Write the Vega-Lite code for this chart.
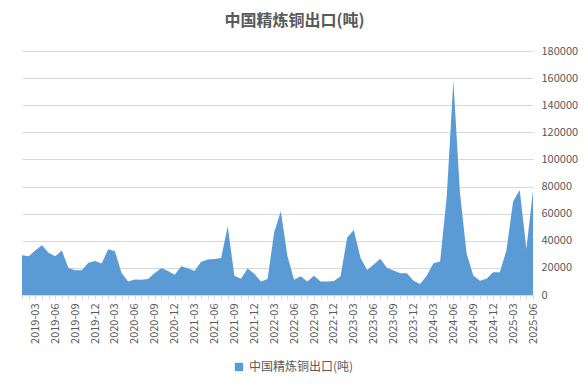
{
  "$schema": "https://vega.github.io/schema/vega-lite/v6.json",
  "autosize": "none",
  "width": 511,
  "height": 244,
  "padding": {"left": 22, "top": 51, "right": 55, "bottom": 91},
  "background": "white",
  "config": {
    "font": "Noto Sans CJK SC",
    "view": {"stroke": null}
  },
  "title": {
    "text": "中国精炼铜出口(吨)",
    "fontSize": 16,
    "fontWeight": "bold",
    "color": "#595959",
    "anchor": "middle",
    "dx": 17,
    "offset": 16,
    "font": "Noto Sans CJK SC"
  },
  "data": {
    "values": [
      {"month": "2019-01", "value": 29250},
      {"month": "2019-02", "value": 28500},
      {"month": "2019-03", "value": 32750},
      {"month": "2019-04", "value": 36750},
      {"month": "2019-05", "value": 31250},
      {"month": "2019-06", "value": 28500},
      {"month": "2019-07", "value": 32750},
      {"month": "2019-08", "value": 20000},
      {"month": "2019-09", "value": 18250},
      {"month": "2019-10", "value": 18250},
      {"month": "2019-11", "value": 23750},
      {"month": "2019-12", "value": 25000},
      {"month": "2020-01", "value": 23250},
      {"month": "2020-02", "value": 33750},
      {"month": "2020-03", "value": 32250},
      {"month": "2020-04", "value": 16250},
      {"month": "2020-05", "value": 10000},
      {"month": "2020-06", "value": 11500},
      {"month": "2020-07", "value": 11250},
      {"month": "2020-08", "value": 11750},
      {"month": "2020-09", "value": 16250},
      {"month": "2020-10", "value": 20000},
      {"month": "2020-11", "value": 17750},
      {"month": "2020-12", "value": 15000},
      {"month": "2021-01", "value": 21250},
      {"month": "2021-02", "value": 19750},
      {"month": "2021-03", "value": 17750},
      {"month": "2021-04", "value": 24500},
      {"month": "2021-05", "value": 26250},
      {"month": "2021-06", "value": 26500},
      {"month": "2021-07", "value": 27250},
      {"month": "2021-08", "value": 50750},
      {"month": "2021-09", "value": 14250},
      {"month": "2021-10", "value": 12000},
      {"month": "2021-11", "value": 19500},
      {"month": "2021-12", "value": 15750},
      {"month": "2022-01", "value": 10000},
      {"month": "2022-02", "value": 11750},
      {"month": "2022-03", "value": 46250},
      {"month": "2022-04", "value": 61750},
      {"month": "2022-05", "value": 28750},
      {"month": "2022-06", "value": 11250},
      {"month": "2022-07", "value": 13750},
      {"month": "2022-08", "value": 10000},
      {"month": "2022-09", "value": 14250},
      {"month": "2022-10", "value": 10000},
      {"month": "2022-11", "value": 10000},
      {"month": "2022-12", "value": 10250},
      {"month": "2023-01", "value": 13750},
      {"month": "2023-02", "value": 42500},
      {"month": "2023-03", "value": 48000},
      {"month": "2023-04", "value": 27500},
      {"month": "2023-05", "value": 18500},
      {"month": "2023-06", "value": 22500},
      {"month": "2023-07", "value": 26750},
      {"month": "2023-08", "value": 20000},
      {"month": "2023-09", "value": 18000},
      {"month": "2023-10", "value": 16000},
      {"month": "2023-11", "value": 16000},
      {"month": "2023-12", "value": 10500},
      {"month": "2024-01", "value": 8200},
      {"month": "2024-02", "value": 14400},
      {"month": "2024-03", "value": 23500},
      {"month": "2024-04", "value": 24800},
      {"month": "2024-05", "value": 72500},
      {"month": "2024-06", "value": 158000},
      {"month": "2024-07", "value": 75000},
      {"month": "2024-08", "value": 30500},
      {"month": "2024-09", "value": 14400},
      {"month": "2024-10", "value": 10600},
      {"month": "2024-11", "value": 11900},
      {"month": "2024-12", "value": 16800},
      {"month": "2025-01", "value": 16800},
      {"month": "2025-02", "value": 33000},
      {"month": "2025-03", "value": 69000},
      {"month": "2025-04", "value": 77500},
      {"month": "2025-05", "value": 34000},
      {"month": "2025-06", "value": 77000}
    ]
  },
  "mark": {"type": "area", "interpolate": "linear", "opacity": 1},
  "encoding": {
    "x": {
      "field": "month",
      "type": "ordinal",
      "sort": null,
      "scale": {"type": "point", "padding": 0},
      "axis": {
        "title": null,
        "labelAngle": -90,
        "labelFontSize": 11,
        "labelColor": "#595959",
        "labelPadding": 4,
        "labelExpr": "indexof(['03','06','09','12'], substring(datum.value, 5, 7)) >= 0 ? datum.value : ''",
        "labelOverlap": false,
        "grid": false,
        "domain": true,
        "domainColor": "#D9D9D9",
        "ticks": true,
        "tickColor": "#D9D9D9",
        "tickSize": 4
      }
    },
    "y": {
      "field": "value",
      "type": "quantitative",
      "scale": {"domain": [0, 180000], "nice": false},
      "axis": {
        "title": null,
        "orient": "right",
        "values": [0, 20000, 40000, 60000, 80000, 100000, 120000, 140000, 160000, 180000],
        "format": "d",
        "labelFontSize": 11,
        "labelColor": "#595959",
        "labelPadding": 8,
        "domain": false,
        "ticks": false,
        "grid": true,
        "gridColor": "#D9D9D9"
      }
    },
    "color": {
      "datum": "中国精炼铜出口(吨)",
      "type": "nominal",
      "scale": {"range": ["#5B9BD5"]},
      "legend": {
        "title": null,
        "orient": "none",
        "legendX": 211,
        "legendY": 310,
        "symbolType": "square",
        "symbolSize": 70,
        "labelFontSize": 12,
        "labelColor": "#595959"
      }
    }
  }
}
